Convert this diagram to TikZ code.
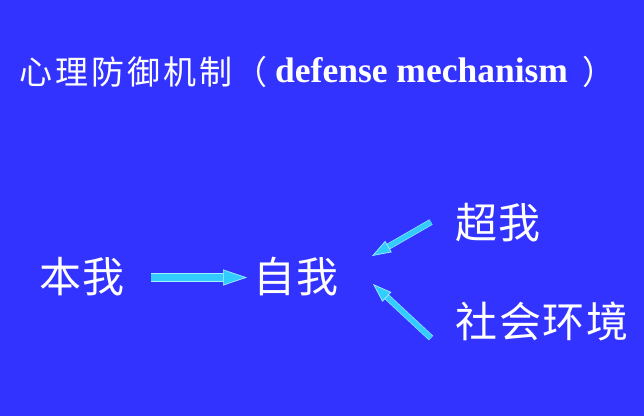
\documentclass[tikz,border=0pt]{standalone}
\usepackage{fontspec}
\setmainfont{Liberation Serif}
\newfontfamily\cjk{Noto Sans CJK SC}
\usetikzlibrary{arrows.meta}
\definecolor{slideblue}{RGB}{51,51,255}
\definecolor{arrowcyan}{RGB}{51,204,255}
\definecolor{arrowedge}{RGB}{160,240,255}
\tikzset{
	label/.style={text=white,inner sep=0pt,font=\fontsize{42}{42}\selectfont\cjk\addfontfeature{LetterSpace=4}},
	fatarrow/.style={draw=arrowcyan,line width=7pt,
		preaction={draw=arrowedge,line width=8.4pt,shorten >=20pt,-},
		-{Triangle[length=24pt,width=16pt,line width=0.7pt,color=arrowedge,fill=arrowcyan]}},
	thinarrow/.style={draw=arrowcyan,line width=5pt,
		preaction={draw=arrowedge,line width=6.2pt,shorten >=16pt,-},
		-{Triangle[length=19pt,width=13pt,line width=0.7pt,color=arrowedge,fill=arrowcyan]}}
}
\begin{document}
\begin{tikzpicture}[x=1pt,y=-1pt]
			\fill [slideblue] (0,0) rectangle (644,416);
			\useasboundingbox (0,0) rectangle (644,416);
			% title
			\node [anchor=base west,inner sep=0pt,text=white,font=\fontsize{33}{33}\selectfont\cjk\addfontfeature{LetterSpace=9}] (titlecn) at (19,84) {心理防御机制（};
			\node [anchor=base west,inner sep=0pt,text=white,font=\fontsize{35.5}{35.5}\selectfont\bfseries] (titleen) at (275,82) {defense mechanism};
			\node [anchor=base west,inner sep=0pt,text=white,font=\fontsize{33}{33}\selectfont\cjk] (titlepar) at (582,84) {）};
			% labels
			\node [label] (id) at (82,277) {本我};
			\node [label] (ego) at (296,277) {自我};
			\node [label] (superego) at (498,223) {超我};
			\node [label] (society) at (542,321) {社会环境};
			% arrow ends
			\coordinate (idtail) at (151,277.5);
			\coordinate (idtip) at (247,277.5);
			\coordinate (suptail) at (431,222);
			\coordinate (suptip) at (372,256);
			\coordinate (soctail) at (431,338);
			\coordinate (soctip) at (373,284);
			\draw [fatarrow] (idtail) to (idtip);
			\draw [thinarrow] (suptail) to (suptip);
			\draw [thinarrow] (soctail) to (soctip);
		\end{tikzpicture}
\end{document}
